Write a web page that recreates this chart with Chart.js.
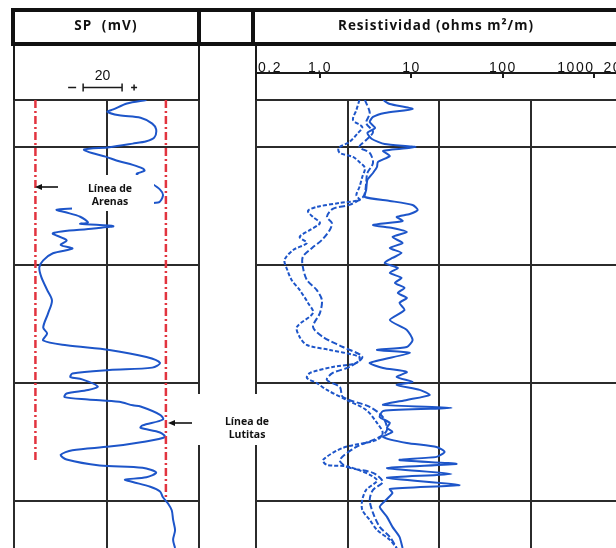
<!DOCTYPE html>
<html><head><meta charset="utf-8">
<script src="https://cdn.jsdelivr.net/npm/chart.js@4.4.1/dist/chart.umd.min.js"></script>
<style>
html,body{margin:0;padding:0;background:#fff;overflow:hidden;}
#wrap{position:relative;width:616px;height:548px;overflow:hidden;background:#fff;}
canvas{position:absolute;}
.box{position:absolute;box-sizing:border-box;border:4px solid #111;}
.htxt{position:absolute;font-family:'Open Sans',sans-serif;font-weight:700;color:#111;white-space:nowrap;}
.white{position:absolute;background:#fff;}
.lbl{position:absolute;font-family:'Open Sans',sans-serif;font-weight:700;font-size:10.5px;line-height:12.5px;color:#111;text-align:center;white-space:nowrap;}
svg{position:absolute;left:0;top:0;}
</style></head>
<body>
<div id="wrap">
  <canvas id="sp" width="212" height="504" style="left:0;top:44px;width:212px;height:504px"></canvas>
  <canvas id="res" width="392" height="504" style="left:240px;top:44px;width:392px;height:504px"></canvas>

  <div class="box" style="left:11px;top:8px;width:190px;height:38px"></div>
  <div class="box" style="left:197px;top:8px;width:58px;height:38px"></div>
  <div class="box" style="left:251px;top:8px;width:400px;height:38px"></div>
  <div class="htxt" id="spTitle" style="left:11px;width:190px;top:16px;text-align:center;font-size:13.5px;letter-spacing:1.2px"></div>
  <div class="htxt" id="resTitle" style="left:300px;width:272px;top:16px;text-align:center;font-size:13.5px;letter-spacing:1px"></div>

  <div class="white" style="left:72px;top:175px;width:82px;height:36px"></div>
  <div class="lbl" id="lblArenas" style="left:70px;width:80px;top:182px"></div>
  <div class="white" style="left:195px;top:394px;width:92px;height:51px"></div>
  <div class="lbl" id="lblLutitas" style="left:200px;width:94px;top:415px"></div>

  <svg width="616" height="548">
    <line x1="58" y1="187" x2="40" y2="187" stroke="#111" stroke-width="1.6"/>
    <polygon points="35,187 42,184 42,190" fill="#111"/>
    <line x1="192" y1="423" x2="173" y2="423" stroke="#111" stroke-width="1.6"/>
    <polygon points="168,423 175,420 175,426" fill="#111"/>
  </svg>
</div>
<script>
// ---------- text ----------
const spTitleText = 'SP\u00a0\u00a0(mV)';
const resTitleText = 'Resistividad (ohms m\u00b2/m)';
const arenasText = ['Línea de', 'Arenas'];
const lutitasText = ['Línea de', 'Lutitas'];

// ---------- SP track (mV vs depth) ----------
const spMin = -78, spMax = 17;
const spGridValues = [-78, -30, 17];
const spScaleBar = [-42.5, -22.5];      // 20 mV bar
const spScaleLabel = '20';
const sandLineMv = -67, sandLineEnd = 308;
const shaleLineMv = 0, shaleLineEnd = 337;
const spDepth = [0,3,8,10,13,15,20,25,32,35,37,40,42,45,48,52,55,58,60,63,70,76,81,87,93,95,99,104,105,107,109,113,119,123,126,130,136,142,150,161,170,181,193,198,204,208,212,218,223,227,229,232,235,237,243,246,249,252,254,256,259,260,267,271,276,278,282,286,290,294,297,301,305,310,312,316,320,322,324,328,332,337,342,348,356,365,373,380];
const spMv = [-10,-20,-27,-30,-24,-13,-7,-5,-6,-10,-17,-29,-42,-38,-31,-24,-17,-12,-11,-15,-8,-3,-1.5,-4,-56,-52,-44,-40,-44,-27,-37,-58,-51,-54,-48,-58,-63,-65,-64,-61,-58.5,-60.5,-63,-61,-63,-51,-29,-10,-3,-7,-29,-48,-49,-43,-35,-40,-51,-52,-40,-24,-17,-13,-3,-1.5,-12,-13,-3,-0.5,-12,-29,-48,-54,-51,-34,-12,-5,-10,-21,-17,-8,-3,-1.5,1,3,3.7,4.7,3.7,4.7];

// ---------- depth grid ----------
const depthMin = 0, depthMax = 380;
const depthGrid = [0, 40, 140, 240, 340];

// ---------- Resistivity track (ohm m) ----------
const resMin = 0.2, resMax = 2000;
const resGridValues = [0.2, 2, 20, 200, 2000];
const resTickValues = [0.2, 1, 10, 100, 1000, 2000];
const resTickLabels = ['0.2', '1.0', '10', '100', '1000', '2000'];
const resDepthDeep = [0,3.4,7.6,11,14.4,18.7,23.7,28,33.1,37.3,39.9,43.2,47.5,52.6,56.8,61.9,67.8,76.3,82.3,85.6,89,93.3,96.7,99.2,102.6,106,108.5,111.9,116.2,121.3,125.5,129.7,134,138.2,142.5,146.7,150.9,155.2,159.4,163.7,167.9,172.1,178.1,186.6,195,203.5,209.5,212,214.5,223,227.3,230.7,234.9,239.1,241.7,245.9,250.2,254.4,258.6,261.2,263.7,268.8,273.9,278.1,281.5,285.8,290.9,294.3,298.5,302.7,305.3,308.7,312.1,317.2,320.5,326.5,329.9,333.3,338.4,345.1,353.6,362.1,370.6,380];
const resDeep = [4.9,5.8,10.3,5.1,3.8,3.5,4.0,3.3,3.7,5.1,11.1,4.9,5.8,4.3,4.2,3.8,3.3,3.2,3.1,5.8,10.3,11.7,9.6,6.9,8.0,3.8,6.2,8.9,6.2,8.0,5.8,7.8,6.2,5.1,7.1,5.8,7.8,6.6,8.4,7.1,8.9,7.4,8.4,5.8,8.9,10.3,8.9,4.2,9.6,3.5,4.9,8.9,6.9,10.3,6.9,12.3,15.8,8.9,4.9,27.4,4.9,4.5,5.8,5.4,6.2,4.9,8.9,18.8,23,18.8,7.4,31.1,5.4,27.4,5.4,33.6,5.8,6.2,5.4,4.5,5.4,6.2,7.4,8.0];
const resDepthMedium = [0,11,19.5,27.1,33.9,39.9,44.9,53.4,61.9,70.4,78.9,83.1,89,92.4,99.2,104.3,110.2,118.7,125.5,133.1,141.6,152.6,161.1,169.6,180.6,192.5,201,209.5,217.9,226.4,231.5,237.4,243.4,251.9,260.3,268.8,279.8,285.8,294.3,305.3,311.2,316.3,323.9,330.7,339.2,350.2,362.1,370.6,380];
const resMedium = [3.1,3.5,3.2,3.8,3.2,2.7,3.5,3.8,3.3,3.2,3.1,2.9,2.1,1.38,1.19,1.35,1.28,1.05,0.82,0.65,0.65,0.72,0.92,1.05,1.0,0.84,1.08,1.78,2.9,2.1,1.38,1.19,1.65,1.78,3.5,4.85,5.4,4.5,2.5,1.65,1.96,3.8,4.85,3.8,3.5,3.8,4.5,5.8,6.9];
const resDepthShallow = [0,8.5,17,22.9,28,35.6,40.7,44.9,48.3,52.6,57.7,65.3,73.8,80.6,84.8,87.3,90.7,94.1,99.2,104.3,110.2,116.2,121.3,127.2,135.7,144.2,152.6,161.1,172.1,180.6,192.5,201,207.8,212,217.9,223,226.4,231.5,235.7,240,245.9,254.4,262.9,273.9,282.4,288.3,295.1,305.3,309.5,311.2,322.2,330.7,339.2,347.7,356.2,364.6,373.1,380];
const resShallow = [2.7,2.5,2.3,2.9,2.6,2.1,1.6,1.65,2.3,2.7,3.1,2.9,2.7,2.5,2.7,1.65,0.92,0.74,0.84,1.0,0.78,0.6,0.72,0.51,0.41,0.44,0.49,0.6,0.74,0.84,0.56,0.6,0.72,1.28,2.7,2.5,1.38,0.78,0.72,0.92,1.19,1.96,3.2,4.2,4.85,4.2,1.78,1.08,1.19,2.1,4.2,3.2,2.9,2.9,3.5,4.2,5.8,6.9];

// ---------- html text ----------
document.getElementById('spTitle').textContent = spTitleText;
document.getElementById('resTitle').textContent = resTitleText;
document.getElementById('lblArenas').innerHTML = arenasText.join('<br>');
document.getElementById('lblLutitas').innerHTML = lutitasText.join('<br>');

const pts = (xs, ys) => xs.map((v, i) => ({x: v, y: ys[i]}));
const BLUE = '#1d55c9', RED = '#e2343f', GRID = '#2b2b2b';

const fixedTicks = arr => (s => { s.ticks = arr.map(v => ({value: v})); });
const yScale = {
  type: 'linear', reverse: true, min: depthMin, max: depthMax,
  afterBuildTicks: fixedTicks(depthGrid),
  ticks: {display: false}, border: {display: false},
  grid: {color: GRID, lineWidth: 2, drawTicks: false}
};
const baseOpts = {
  responsive: false, animation: false, devicePixelRatio: 1,
  plugins: {legend: {display: false}, tooltip: {enabled: false}},
  events: []
};

// SP header sub-row drawn with the SP x scale
const spHeader = {
  id: 'spHeader',
  afterDraw(chart) {
    const ctx = chart.ctx, xs = chart.scales.x, top = chart.chartArea.top;
    ctx.save();
    ctx.strokeStyle = '#1a1a1a'; ctx.lineWidth = 2;
    [spMin, spMax].forEach(v => {
      const px = Math.round(xs.getPixelForValue(v));
      ctx.beginPath(); ctx.moveTo(px, 0); ctx.lineTo(px, top); ctx.stroke();
    });
    const a = xs.getPixelForValue(spScaleBar[0]), b = xs.getPixelForValue(spScaleBar[1]);
    const by = 43.5;
    ctx.lineWidth = 1.5;
    ctx.beginPath();
    ctx.moveTo(a, by); ctx.lineTo(b, by);
    ctx.moveTo(a, by - 4); ctx.lineTo(a, by + 4);
    ctx.moveTo(b, by - 4); ctx.lineTo(b, by + 4);
    ctx.moveTo(a - 15, by); ctx.lineTo(a - 7, by);            // minus
    ctx.moveTo(b + 9, by); ctx.lineTo(b + 15, by);            // plus
    ctx.moveTo(b + 12, by - 3); ctx.lineTo(b + 12, by + 3);
    ctx.stroke();
    ctx.fillStyle = '#111';
    ctx.font = '14px "Liberation Sans", Arial, sans-serif';
    ctx.textAlign = 'center'; ctx.textBaseline = 'alphabetic';
    ctx.fillText(spScaleLabel, (a + b) / 2, 36);
    ctx.restore();
  }
};

new Chart(document.getElementById('sp'), {
  type: 'scatter',
  data: {datasets: [
    {data: pts([sandLineMv, sandLineMv], [0, sandLineEnd]), showLine: true, borderColor: RED, borderWidth: 2.5, borderDash: [8, 3, 2, 3], pointRadius: 0},
    {data: pts([shaleLineMv, shaleLineMv], [0, shaleLineEnd]), showLine: true, borderColor: RED, borderWidth: 2.5, borderDash: [8, 3, 2, 3], pointRadius: 0},
    {data: pts(spMv, spDepth), showLine: true, borderColor: BLUE, borderWidth: 2, pointRadius: 0, tension: 0.3}
  ]},
  options: Object.assign({}, baseOpts, {
    layout: {padding: {left: 14, right: 13, top: 56, bottom: 0}},
    scales: {
      x: {type: 'linear', min: spMin, max: spMax, afterBuildTicks: fixedTicks(spGridValues),
          ticks: {display: false}, border: {display: false},
          grid: {color: GRID, lineWidth: 2, drawTicks: false}},
      y: yScale
    }
  }),
  plugins: [spHeader]
});

// Resistivity header scale drawn with the log x scale
const resHeader = {
  id: 'resHeader',
  afterDraw(chart) {
    const ctx = chart.ctx, xs = chart.scales.x, top = chart.chartArea.top;
    const x0 = Math.round(xs.getPixelForValue(resMin));
    ctx.save();
    ctx.strokeStyle = '#1a1a1a'; ctx.lineWidth = 2;
    ctx.beginPath(); ctx.moveTo(x0, 0); ctx.lineTo(x0, top); ctx.stroke();
    const ly = 29;
    ctx.beginPath(); ctx.moveTo(x0 - 1, ly); ctx.lineTo(chart.width, ly); ctx.stroke();
    ctx.beginPath();
    resTickValues.forEach(v => {
      if (v === resMin || v === resMax) return;
      const px = Math.round(xs.getPixelForValue(v));
      ctx.moveTo(px, ly); ctx.lineTo(px, ly + 5);
    });
    ctx.stroke();
    const aligns = ['left', 'center', 'center', 'center', 'right', 'center'];
    ctx.fillStyle = '#111';
    ctx.font = '14px "Liberation Sans", Arial, sans-serif';
    ctx.letterSpacing = '1.5px';
    ctx.textBaseline = 'alphabetic';
    resTickValues.forEach((v, i) => {
      let px = xs.getPixelForValue(v);
      ctx.textAlign = aligns[i];
      if (aligns[i] === 'left') px += 2;
      ctx.fillText(resTickLabels[i], px, 27.5);
    });
    ctx.restore();
  }
};

new Chart(document.getElementById('res'), {
  type: 'scatter',
  data: {datasets: [
    {data: pts(resShallow, resDepthShallow), showLine: true, borderColor: BLUE, borderWidth: 2, borderDash: [4, 2], pointRadius: 0, tension: 0.3},
    {data: pts(resMedium, resDepthMedium), showLine: true, borderColor: BLUE, borderWidth: 2, borderDash: [6, 2.5], pointRadius: 0, tension: 0.3},
    {data: pts(resDeep, resDepthDeep), showLine: true, borderColor: BLUE, borderWidth: 2, pointRadius: 0, tension: 0.2}
  ]},
  options: Object.assign({}, baseOpts, {
    layout: {padding: {left: 16, right: 10, top: 56, bottom: 0}},
    scales: {
      x: {type: 'logarithmic', min: resMin, max: resMax, afterBuildTicks: fixedTicks(resGridValues),
          ticks: {display: false}, border: {display: false},
          grid: {color: GRID, lineWidth: 2, drawTicks: false}},
      y: yScale
    }
  }),
  plugins: [resHeader]
});
</script>
</body></html>
